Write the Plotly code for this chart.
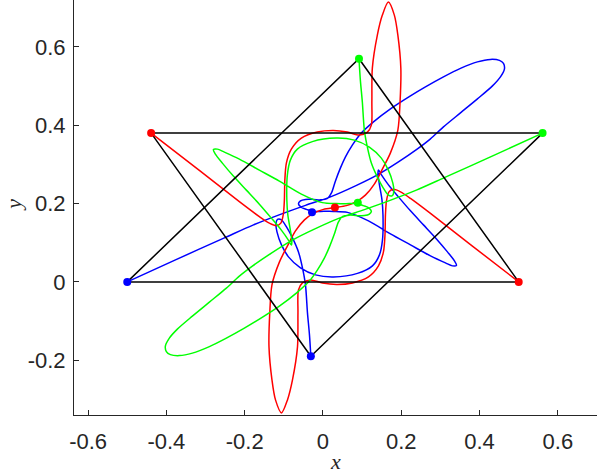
import plotly.graph_objects as go

# rest configuration at the start and at the end, plus the syzygy in between (blue, red, green)
start_x = [-0.5, 0.5, 0.092]
start_y = [0.0, 0.0, 0.570]
end_x = [-0.031, -0.439, 0.561]
end_y = [-0.190, 0.380, 0.380]
syz_x = [-0.028, 0.0305, 0.089]
syz_y = [0.178, 0.190, 0.202]

# blue body, start -> end
blue_x = [-0.500, -0.3768, -0.2490, -0.1775, -0.1086, -0.0447, 0.0192, 0.0830, 0.1392, 0.1928,
          0.2414, 0.2746, 0.3078, 0.3512, 0.3946, 0.4330, 0.4534, 0.4636, 0.4611, 0.4508,
          0.4278, 0.3946, 0.3512, 0.3078, 0.2618, 0.2235, 0.1724, 0.1290, 0.0958, 0.0754,
          0.0575, 0.0447, 0.0319, 0.0217, 0.0115, -0.0064, -0.0243, -0.0447, -0.0575, -0.0626,
          -0.0549, -0.0421, -0.0268, -0.0064, 0.0268, 0.0626, 0.1162, 0.1724, 0.2235, 0.2746,
          0.3129, 0.3308, 0.3410, 0.3359, 0.3180, 0.2899, 0.2567, 0.2235, 0.1928, 0.1673,
          0.1494, 0.1418, 0.1405, 0.1443, 0.1507, 0.1533, 0.1520, 0.1443, 0.1264, 0.0881,
          0.0268, -0.0192, -0.0575, -0.0881, -0.1060, -0.1175, -0.1201, -0.1162, -0.1060, -0.0932,
          -0.0779, -0.0626, -0.0524, -0.0447, -0.0396, -0.0345, -0.031]
blue_y = [0.000, 0.0562, 0.1137, 0.1456, 0.1724, 0.1954, 0.2171, 0.2452, 0.2733, 0.3065,
          0.3397, 0.3653, 0.3959, 0.4317, 0.4674, 0.5006, 0.5236, 0.5441, 0.5581, 0.5658,
          0.5683, 0.5620, 0.5453, 0.5236, 0.4981, 0.4751, 0.4419, 0.4087, 0.3780, 0.3499,
          0.3193, 0.2912, 0.2580, 0.2273, 0.2133, 0.2095, 0.2107, 0.2107, 0.2069, 0.1992,
          0.1903, 0.1852, 0.1801, 0.1801, 0.1801, 0.1775, 0.1558, 0.1226, 0.0945, 0.0664,
          0.0485, 0.0409, 0.0421, 0.0536, 0.0766, 0.1098, 0.1456, 0.1814, 0.2171, 0.2478,
          0.2733, 0.2861, 0.2759, 0.2478, 0.2095, 0.1711, 0.1073, 0.0690, 0.0409, 0.0217,
          0.0128, 0.0179, 0.0358, 0.0639, 0.0945, 0.1277, 0.1482, 0.1596, 0.1584, 0.1405,
          0.1124, 0.0766, 0.0358, -0.0077, -0.0792, -0.1354, -0.190]

# red body, start -> end
red_x = [0.500, 0.3768, 0.2746, 0.2235, 0.1980, 0.1801, 0.1686, 0.1622, 0.1596, 0.1584,
         0.1545, 0.1418, 0.1162, 0.0754, 0.0345, -0.0013, -0.0319, -0.0524, -0.0626, -0.0639,
         -0.0651, -0.0779, -0.0907, -0.1060, -0.1213, -0.1303, -0.1379, -0.1359, -0.1303, -0.1111,
         -0.0907, -0.0702, -0.0473, -0.0243, 0.0013, 0.0305,
         0.0597, 0.0853, 0.1083, 0.1312, 0.1517, 0.1721, 0.1913, 0.1969, 0.1989, 0.1913,
         0.1823, 0.1670, 0.1517, 0.1389, 0.1261, 0.1249, 0.1236, 0.1134, 0.0929, 0.0623,
         0.0265, -0.0144, -0.0552, -0.0808, -0.0935, -0.0974, -0.0986, -0.1012, -0.1076, -0.1191,
         -0.1370, -0.1625, -0.2136, -0.3158, -0.439]
red_y = [0.000, 0.0953, 0.1750, 0.2133, 0.2299, 0.2363, 0.2299, 0.2069, 0.1711, 0.1201,
         0.0766, 0.0409, 0.0128, -0.0026, -0.0064, -0.0026, 0.0051, -0.0026, -0.0204, -0.0792,
         -0.1660, -0.2503, -0.3014, -0.3346, -0.3014, -0.2503, -0.1660, -0.0792, -0.0077, 0.0511,
         0.0920, 0.1303, 0.1584, 0.1750, 0.1852, 0.1900,
         0.1948, 0.2050, 0.2216, 0.2497, 0.2880, 0.3289, 0.3877, 0.4592, 0.5460, 0.6303,
         0.6814, 0.7146, 0.6814, 0.6303, 0.5460, 0.4592, 0.4004, 0.3826, 0.3749, 0.3826,
         0.3864, 0.3826, 0.3672, 0.3391, 0.3034, 0.2599, 0.2089, 0.1731, 0.1501, 0.1437,
         0.1501, 0.1667, 0.2050, 0.2847, 0.380]

# green body, start -> end
green_x = [0.092, 0.0955, 0.1006, 0.1057, 0.1134, 0.1236, 0.1389, 0.1542, 0.1670, 0.1772,
           0.1811, 0.1785, 0.1670, 0.1491, 0.1185, 0.0802, 0.0342, -0.0271, -0.0654, -0.0833,
           -0.0910, -0.0923, -0.0897, -0.0833, -0.0795, -0.0808, -0.0884, -0.1063, -0.1318, -0.1625,
           -0.1957, -0.2289, -0.2570, -0.2749, -0.2800, -0.2698, -0.2519, -0.2136, -0.1625, -0.1114,
           -0.0552, -0.0016, 0.0342, 0.0674, 0.0878, 0.1031, 0.1159, 0.1236, 0.1185, 0.1057,
           0.0853, 0.0674, 0.0495, 0.0393, 0.0291, 0.0163, 0.0035, -0.0144, -0.0348, -0.0680,
           -0.1114, -0.1625, -0.2008, -0.2468, -0.2902, -0.3336, -0.3668, -0.3898, -0.4001, -0.4026,
           -0.3924, -0.3720, -0.3336, -0.2902, -0.2468, -0.2136, -0.1804, -0.1318, -0.0782, -0.0220,
           0.0418, 0.1057, 0.1696, 0.2385, 0.3100, 0.4378, 0.561]
green_y = [0.570, 0.5154, 0.4592, 0.3877, 0.3442, 0.3034, 0.2676, 0.2395, 0.2216, 0.2204,
           0.2318, 0.2523, 0.2855, 0.3161, 0.3442, 0.3621, 0.3672, 0.3583, 0.3391, 0.3110,
           0.2727, 0.2089, 0.1705, 0.1322, 0.1041, 0.0939, 0.1067, 0.1322, 0.1629, 0.1986,
           0.2344, 0.2702, 0.3034, 0.3264, 0.3379, 0.3391, 0.3315, 0.3136, 0.2855, 0.2574,
           0.2242, 0.2025, 0.1999, 0.1999, 0.1999, 0.1948, 0.1897, 0.1808, 0.1731, 0.1693,
           0.1693, 0.1705, 0.1667, 0.1527, 0.1220, 0.0888, 0.0607, 0.0301, 0.0020, -0.0287,
           -0.0619, -0.0951, -0.1181, -0.1436, -0.1653, -0.1820, -0.1883, -0.1858, -0.1781, -0.1641,
           -0.1436, -0.1206, -0.0874, -0.0517, -0.0159, 0.0147, 0.0403, 0.0735, 0.1067, 0.1348,
           0.1629, 0.1846, 0.2076, 0.2344, 0.2663, 0.3238, 0.380]

colors = ["#0000ff", "#ff0000", "#00ff00"]

fig = go.Figure()

for xs, ys, c in [(blue_x, blue_y, colors[0]), (red_x, red_y, colors[1]), (green_x, green_y, colors[2])]:
    fig.add_trace(go.Scatter(x=xs, y=ys, mode="lines",
                             line=dict(color=c, width=1.5, shape="spline", smoothing=0.8),
                             hoverinfo="skip"))

# triangles joining the bodies at the two rest configurations
for xs, ys in [(start_x, start_y), (end_x, end_y)]:
    fig.add_trace(go.Scatter(x=xs + xs[:1], y=ys + ys[:1], mode="lines",
                             line=dict(color="black", width=1.5), hoverinfo="skip"))

for i, c in enumerate(colors):
    fig.add_trace(go.Scatter(x=[start_x[i], end_x[i], syz_x[i]], y=[start_y[i], end_y[i], syz_y[i]],
                             mode="markers", marker=dict(color=c, size=8), hoverinfo="skip"))

tick_font = dict(family="Liberation Sans, Arial, sans-serif", size=22, color="#262626")
label_font = dict(family="Liberation Serif, serif", size=22, color="#262626")
axis_common = dict(ticks="inside", ticklen=5, tickcolor="#262626", showline=True,
                   linecolor="#262626", linewidth=1, showgrid=False, zeroline=False,
                   tickfont=tick_font, automargin=False)

fig.update_layout(
    width=597, height=474,
    margin=dict(l=74, r=0, t=0, b=59),
    plot_bgcolor="white", paper_bgcolor="white",
    showlegend=False,
    xaxis=dict(range=[-0.636, 0.700], tickvals=[-0.6, -0.4, -0.2, 0, 0.2, 0.4, 0.6],
               ticktext=["-0.6", "-0.4", "-0.2", "0", "0.2", "0.4", "0.6"],
               ticklabelstandoff=7, **axis_common),
    yaxis=dict(range=[-0.340, 0.720], tickvals=[-0.2, 0, 0.2, 0.4, 0.6],
               ticktext=["-0.2", "0", "0.2", "0.4", "0.6"],
               ticklabelstandoff=3, **axis_common),
    annotations=[
        dict(text="<i>x</i>", xref="paper", yref="paper", x=0.5, y=-0.113,
             xanchor="center", yanchor="middle", showarrow=False, font=label_font),
        dict(text="<i>y</i>", xref="paper", yref="paper", x=-0.117, y=0.506,
             xanchor="center", yanchor="middle", showarrow=False, font=label_font, textangle=-90),
    ],
)

# page body margin removed so the figure sits at the window's top-left corner
fig.write_html("out.html", config={"displayModeBar": False},
               post_script="document.body.style.margin='0px';")
